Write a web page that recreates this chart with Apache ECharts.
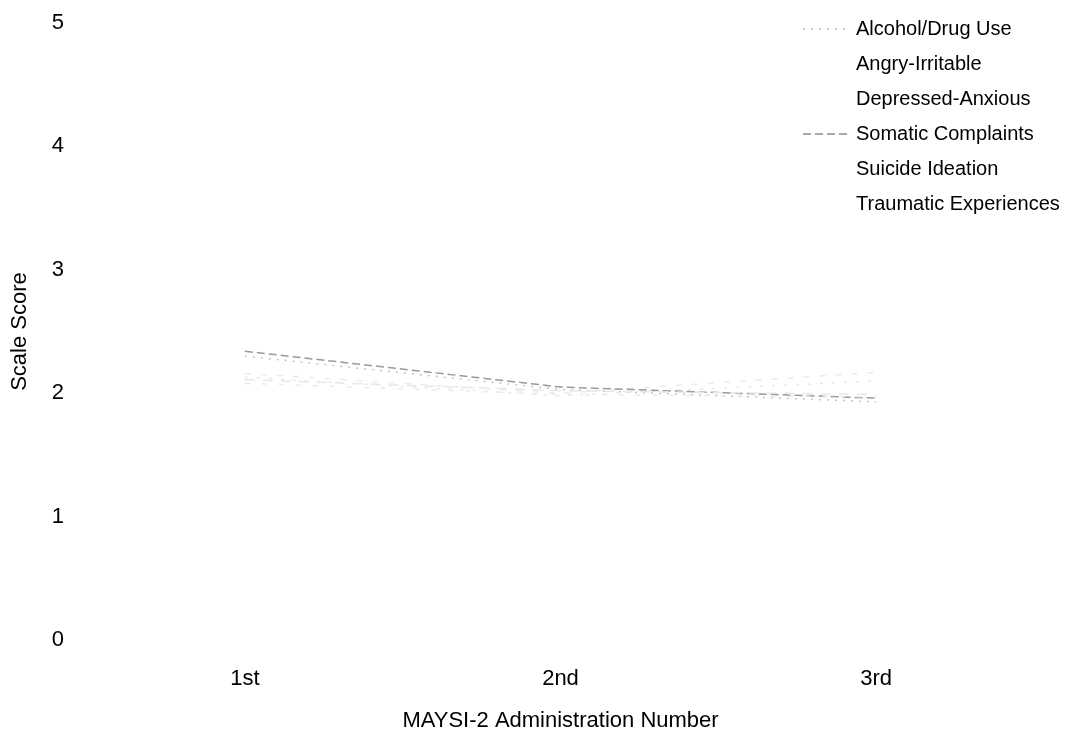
<!DOCTYPE html>
<html>
<head>
<meta charset="utf-8">
<script src="https://cdn.jsdelivr.net/npm/echarts@6/dist/echarts.min.js"></script>
<style>
	html, body { margin: 0; padding: 0; background: #fff; }
	#main { width: 1077px; height: 740px; }
</style>
</head>
<body>
<div id="main"></div>
<script>
	// administration rounds on the x axis
	var rounds = ['1st', '2nd', '3rd'];
	var yTicks = [0, 1, 2, 3, 4, 5];

	var alcoholDrug = [2.30, 2.03, 1.93];
	var angryIrritable = [2.16, 2.00, 2.17];
	var depressedAnxious = [2.13, 1.98, 2.10];
	var somatic = [2.34, 2.05, 1.96];
	var suicideIdeation = [2.08, 1.99, 1.97];
	var traumatic = [2.11, 2.02, 1.99];

	var names = ['Alcohol/Drug Use', 'Angry-Irritable', 'Depressed-Anxious',
		'Somatic Complaints', 'Suicide Ideation', 'Traumatic Experiences'];
	var values = [alcoholDrug, angryIrritable, depressedAnxious, somatic, suicideIdeation, traumatic];
	// the scan left most lines nearly white
	var colors = ['#c4c4c4', '#ebebeb', '#e8e8e8', '#9a9a9a', '#ebebeb', '#e8e8e8'];
	var dashes = [[2, 6], [6, 10], [3, 9], [8, 4], [5, 12], [10, 8]];
	// legend keys: only two survived the scan
	var legendColors = ['#cfcfcf', '#ffffff', '#ffffff', '#a8a8a8', '#ffffff', '#ffffff'];

	var myChart = echarts.init(document.getElementById('main'));

	var series = names.map(function (n, i) {
		return {
			name: n,
			type: 'line',
			data: values[i],
			symbol: 'none',
			silent: true,
			lineStyle: {
				color: colors[i],
				width: 1.5,
				type: dashes[i]
			},
			itemStyle: { color: colors[i] }
		};
	});

	var legendData = names.map(function (n, i) {
		return {
			name: n,
			itemStyle: { opacity: 0 },
			lineStyle: { color: legendColors[i], width: 2, type: dashes[i] }
		};
	});

	var option = {
		backgroundColor: '#fff',
		animation: false,
		textStyle: { fontFamily: 'Liberation Sans, Arial, sans-serif', color: '#000' },
		grid: { left: 87, right: 43, top: 23, bottom: 100 },
		legend: {
			orient: 'vertical',
			left: 797,
			top: 14,
			itemWidth: 48,
			itemHeight: 14,
			itemGap: 15,
			data: legendData,
			textStyle: { fontSize: 20, color: '#000' }
		},
		xAxis: {
			type: 'category',
			data: rounds,
			boundaryGap: true,
			axisLine: { show: false },
			axisTick: { show: false },
			axisLabel: { fontSize: 22, color: '#000', margin: 28 },
			name: 'MAYSI-2 Administration Number',
			nameLocation: 'middle',
			nameGap: 70,
			nameTextStyle: { fontSize: 22, color: '#000' }
		},
		yAxis: {
			type: 'value',
			min: 0,
			max: 5,
			interval: 1,
			axisLine: { show: false },
			axisTick: { show: false },
			splitLine: { show: false },
			axisLabel: {
				fontSize: 22,
				color: '#000',
				margin: 23,
				formatter: function (v) { return yTicks.indexOf(v) >= 0 ? String(v) : ''; }
			},
			name: 'Scale Score',
			nameLocation: 'middle',
			nameGap: 56,
			nameTextStyle: { fontSize: 22, color: '#000' }
		},
		series: series
	};

	myChart.setOption(option);
</script>
</body>
</html>
